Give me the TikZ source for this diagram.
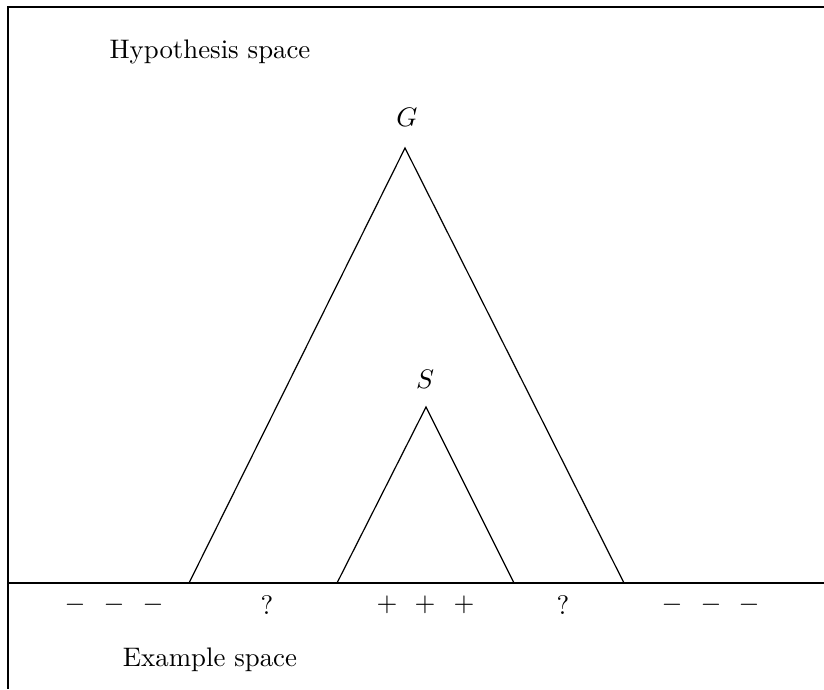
\documentclass[tikz,border=0pt]{standalone}
\begin{document}
\begin{tikzpicture}[x=0.373pt,y=-0.373pt,
  ln/.style={line width=0.45pt, line join=miter},
  lbl/.style={inner sep=0pt, font=\normalsize}]
\useasboundingbox (0,0) rectangle (824,689);
% frame
\coordinate (tl) at (8,7);
\coordinate (tr) at (824,7);
\coordinate (bl) at (8,689);
\draw[ln] (tr) -- (tl) -- (bl);
% example line
\coordinate (el) at (8,583);
\coordinate (er) at (824,583);
\draw[ln] (el) -- (er);
% G triangle
\coordinate (Gt) at (405,148);
\coordinate (Gl) at (189,583);
\coordinate (Gr) at (624,583);
\draw[ln] (Gl) -- (Gt) -- (Gr);
% S triangle
\coordinate (St) at (426,407);
\coordinate (Sl) at (337,583);
\coordinate (Sr) at (514,583);
\draw[ln] (Sl) -- (St) -- (Sr);
% labels
\node[lbl] (hyp) at (210,52) {Hypothesis space};
\node[lbl] (ex) at (210,660) {Example space};
\node[lbl] (G) at (407,117) {$G$};
\node[lbl] (S) at (425,379) {$S$};
\node[lbl] (m1) at (75,605) {$-$};
\node[lbl] (m2) at (114,605) {$-$};
\node[lbl] (m3) at (153,605) {$-$};
\node[lbl] (q1) at (267,605) {?};
\node[lbl] (p1) at (387,605) {$+$};
\node[lbl] (p2) at (425,605) {$+$};
\node[lbl] (p3) at (464,605) {$+$};
\node[lbl] (q2) at (563,605) {?};
\node[lbl] (m4) at (672,605) {$-$};
\node[lbl] (m5) at (711,605) {$-$};
\node[lbl] (m6) at (749,605) {$-$};
\end{tikzpicture}
\end{document}
